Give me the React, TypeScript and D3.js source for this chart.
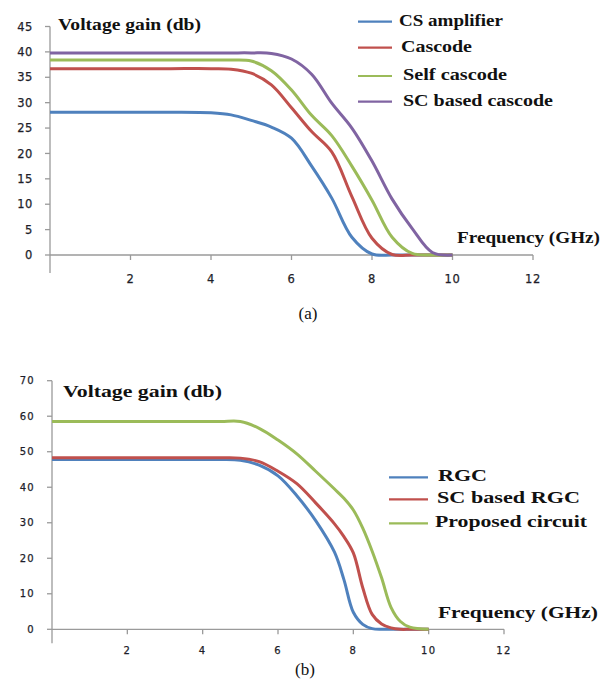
import React from 'react';
import * as d3 from 'd3';

// (a) voltage gain vs frequency
const freqA = [0, 1, 2, 3, 4, 4.5, 5, 5.5, 6, 6.5, 7, 7.5, 8, 8.5, 9, 9.5, 10];
const csAmplifier = [28.1, 28.1, 28.1, 28.1, 28.0, 27.6, 26.5, 25.2, 23.0, 17.5, 11.2, 3.5, 0.2, 0, 0, 0, 0];
const cascode = [36.7, 36.7, 36.7, 36.7, 36.7, 36.6, 35.8, 33.5, 29.0, 24.3, 20.3, 11.5, 3.3, 0.1, 0, 0, 0];
const selfCascode = [38.4, 38.4, 38.4, 38.4, 38.4, 38.4, 38.2, 36.3, 32.5, 27.5, 23.5, 17.5, 10.8, 3.5, 0.3, 0, 0];
const scCascode = [39.8, 39.8, 39.8, 39.8, 39.8, 39.8, 39.8, 39.7, 38.6, 35.6, 29.9, 25.0, 18.5, 11.0, 5.2, 0.5, 0];
const yTicksA = [0, 5, 10, 15, 20, 25, 30, 35, 40, 45];

// (b)
const freqB = [0, 1, 2, 3, 4, 4.5, 5, 5.5, 6, 6.5, 7, 7.5, 7.75, 8, 8.25, 8.5, 8.75, 9, 9.25, 9.5, 10];
const rgc = [47.8, 47.8, 47.8, 47.8, 47.8, 47.8, 47.6, 46.2, 43.2, 37.6, 30.6, 21.7, 14.0, 4.8, 1.4, 0.2, 0, 0, 0, 0, 0];
const scRgc = [48.3, 48.3, 48.3, 48.3, 48.3, 48.3, 48.2, 47.2, 44.5, 41.0, 35.6, 29.7, 26.1, 21.5, 11.7, 4.2, 1.5, 0.4, 0, 0, 0];
const proposed = [58.5, 58.5, 58.5, 58.5, 58.5, 58.5, 58.5, 56.6, 53.3, 49.4, 44.5, 39.5, 36.9, 33.6, 28.5, 22.0, 14.5, 6.2, 2.2, 0.6, 0];
const yTicksB = [0, 10, 20, 30, 40, 50, 60, 70];

const xTicks = [2, 4, 6, 8, 10, 12];

const seriesNamesA = ['CS amplifier', 'Cascode', 'Self cascode', 'SC based cascode'];
const seriesNamesB = ['RGC', 'SC based RGC', 'Proposed circuit'];
const colorsA = ['#4F81BD', '#C0504D', '#9BBB59', '#8064A2'];
const colorsB = ['#4F81BD', '#C0504D', '#9BBB59'];

const serif = "'Liberation Serif', 'Times New Roman', Times, serif";
const sans = "'DejaVu Sans', Verdana, sans-serif";
const axisColor = '#9a9a9a';
const tickColor = '#1e1e2a';

function Panel({ x, y, freq, series, colors, names, yTicks, yExt, tickFont, tickSpacing, labelOffset,
  title, freqLabel, legend }) {
  const line = d3.line<[number, number]>()
    .x(d => x(d[0]))
    .y(d => y(d[1]))
    .curve(d3.curveCatmullRom.alpha(0.5));
  const [x0, x1] = x.range();
  const y0 = y(0);
  const yTop = y(yTicks[yTicks.length - 1]);

  return (
    <g>
      {/* axes */}
      <line x1={x0} x2={x0} y1={yTop} y2={y0 + yExt} stroke={axisColor} strokeWidth={1.3} />
      <line x1={x0} x2={x1} y1={y0} y2={y0} stroke={axisColor} strokeWidth={1.3} />
      {yTicks.map(t => (
        <g key={'y' + t}>
          <line x1={x0 - 5} x2={x0} y1={y(t)} y2={y(t)} stroke={axisColor} strokeWidth={1.3} />
          <text x={x0 - 17} y={y(t)} dy="0.36em" textAnchor="end" style={{ fontFamily: sans }}
            fontSize={tickFont} letterSpacing={tickSpacing} fill={tickColor}
            stroke={tickColor} strokeWidth={0.25}>{t}</text>
        </g>
      ))}
      {xTicks.map(t => (
        <g key={'x' + t}>
          <line x1={x(t)} x2={x(t)} y1={y0} y2={y0 + 5} stroke={axisColor} strokeWidth={1.3} />
          <text x={x(t)} y={y0 + labelOffset} dy="0.36em" textAnchor="middle" style={{ fontFamily: sans }}
            fontSize={tickFont} letterSpacing={tickSpacing} fill={tickColor}
            stroke={tickColor} strokeWidth={0.25}>{t}</text>
        </g>
      ))}

      {/* curves */}
      {series.map((vals, i) => (
        <path key={names[i]} d={line(freq.map((f, j) => [f, vals[j]]) as [number, number][]) || ''}
          fill="none" stroke={colors[i]} strokeWidth={3} strokeLinejoin="round" />
      ))}

      {/* titles */}
      <text x={title.x} y={title.y} style={{ fontFamily: serif }} fontWeight="bold" fontSize={title.size}
        textLength={title.w} lengthAdjust="spacingAndGlyphs" fill="#111">Voltage gain (db)</text>
      <text x={freqLabel.x} y={freqLabel.y} style={{ fontFamily: serif }} fontWeight="bold" fontSize={freqLabel.size}
        textLength={freqLabel.w} lengthAdjust="spacingAndGlyphs" fill="#111">Frequency (GHz)</text>

      {/* legend */}
      {names.map((n, i) => (
        <g key={'lg' + n}>
          <line x1={legend.x1} x2={legend.x2} y1={legend.ys[i]} y2={legend.ys[i]} stroke={colors[i]} strokeWidth={2.2} />
          <text x={legend.tx[i]} y={legend.ys[i] + 4} style={{ fontFamily: serif }} fontWeight="bold" fontSize={legend.size}
            textLength={legend.w[i]} lengthAdjust="spacingAndGlyphs" fill="#111">{n}</text>
        </g>
      ))}
    </g>
  );
}

export default function App() {
  const xA = d3.scaleLinear().domain([0, 12]).range([50, 533]);
  const yA = d3.scaleLinear().domain([0, 45]).range([255, 26.5]);
  const xB = d3.scaleLinear().domain([0, 12]).range([52, 504]);
  const yB = d3.scaleLinear().domain([0, 70]).range([629.3, 380.7]);

  return (
    <svg width={610} height={681} style={{ position: 'absolute', left: 0, top: 0, background: '#fff' }}>
      <Panel x={xA} y={yA} freq={freqA}
        series={[csAmplifier, cascode, selfCascode, scCascode]}
        colors={colorsA} names={seriesNamesA} yTicks={yTicksA} yExt={18}
        tickFont={11.5} tickSpacing={0.6} labelOffset={24}
        title={{ x: 58, y: 30, size: 16, w: 143 }}
        freqLabel={{ x: 457, y: 243, size: 16, w: 143 }}
        legend={{ x1: 358, x2: 392, ys: [21.7, 47.7, 76, 101.7], tx: [399, 401, 403, 403],
          w: [104, 71, 104, 150], size: 17 }} />
      <text x={308} y={313} dy="0.35em" textAnchor="middle" style={{ fontFamily: serif }} fontSize={17} fill="#111">(a)</text>

      <Panel x={xB} y={yB} freq={freqB}
        series={[rgc, scRgc, proposed]}
        colors={colorsB} names={seriesNamesB} yTicks={yTicksB} yExt={14}
        tickFont={10} tickSpacing={1.3} labelOffset={21}
        title={{ x: 63, y: 396.7, size: 17, w: 159 }}
        freqLabel={{ x: 438, y: 618.3, size: 17, w: 160 }}
        legend={{ x1: 389, x2: 428, ys: [477.3, 499.3, 523.3], tx: [438, 437, 435],
          w: [49, 143, 152], size: 17 }} />
      <text x={305} y={669} dy="0.35em" textAnchor="middle" style={{ fontFamily: serif }} fontSize={17} fill="#111">(b)</text>
    </svg>
  );
}
